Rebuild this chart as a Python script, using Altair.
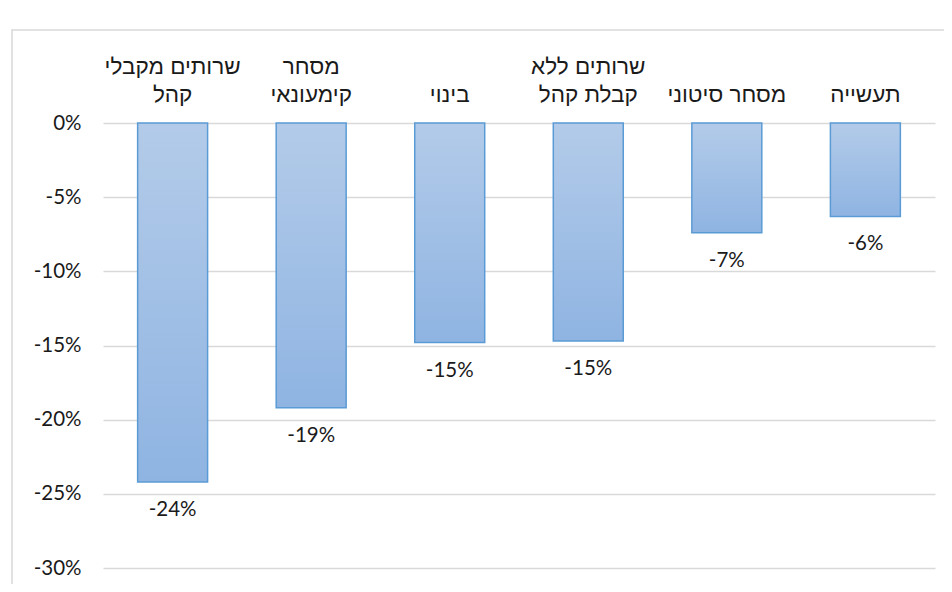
import altair as alt
import pandas as pd

categories = ["שרותים מקבלי\nקהל", "מסחר\nקימעונאי", "בינוי", "שרותים ללא\nקבלת קהל", "מסחר סיטוני", "תעשייה"]
values = [-24.2, -19.2, -14.8, -14.7, -7.4, -6.3]
y_ticks = [0, -5, -10, -15, -20, -25, -30]

df = pd.DataFrame({"cat": categories, "value": values})
df["line1"] = [c.split("\n")[0] if "\n" in c else "" for c in categories]
df["line2"] = [c.split("\n")[-1] for c in categories]

x = alt.X("cat:N", sort=categories, title=None,
          scale=alt.Scale(paddingInner=0.495, paddingOuter=0.25),
          axis=alt.Axis(orient="top", labels=False, domain=False, ticks=False))
y = alt.Y("value:Q", title=None,
          scale=alt.Scale(domain=[-30, 0], nice=False, zero=False),
          axis=alt.Axis(values=y_ticks, labelExpr="datum.value + '%'", domain=False, ticks=False,
                        labelFont="Lato", labelFontSize=20.5, labelColor="#1a1a1a", labelPadding=22,
                        grid=True, gridColor="#d9d9d9", gridWidth=1.5))

grad = alt.Gradient(gradient="linear", x1=0, x2=0, y1=0, y2=1,
                    stops=[alt.GradientStop(color="#b3cbe9", offset=0),
                           alt.GradientStop(color="#8fb4e2", offset=1)])

base = alt.Chart(df)

bars = base.mark_bar(color=grad, stroke="#5b9bd5", strokeWidth=1.5).encode(
    x=x, y=y, y2=alt.datum(0))

labels = base.transform_calculate(
    label="toString(round(datum.value)) + '%'"
).mark_text(font="Lato", fontSize=20.5, color="#1a1a1a", baseline="middle", dy=28).encode(
    x=alt.X("cat:N", sort=categories), y="value:Q", text="label:N")

cat_text = dict(font="Liberation Sans", fontSize=22.5, color="#1a1a1a", baseline="middle")
cat1 = base.mark_text(**cat_text).encode(
    x=alt.X("cat:N", sort=categories), y=alt.value(-56), text="line1:N")
cat2 = base.mark_text(**cat_text).encode(
    x=alt.X("cat:N", sort=categories), y=alt.value(-28), text="line2:N")

frame = alt.Chart(df.head(1)).mark_rect(fill="transparent", stroke="#d9d9d9", strokeWidth=1.5).encode(
    x=alt.value(-91), x2=alt.value(1000), y=alt.value(-93), y2=alt.value(700))

chart = alt.layer(frame, bars, labels, cat1, cat2).properties(
    width=832, height=445,
    padding={"left": 95, "top": 115, "right": 9, "bottom": 16},
    autosize=alt.AutoSizeParams(type="none"),
).configure_view(stroke=None)

chart.save("out.html", embed_options={"renderer": "svg", "actions": False})
